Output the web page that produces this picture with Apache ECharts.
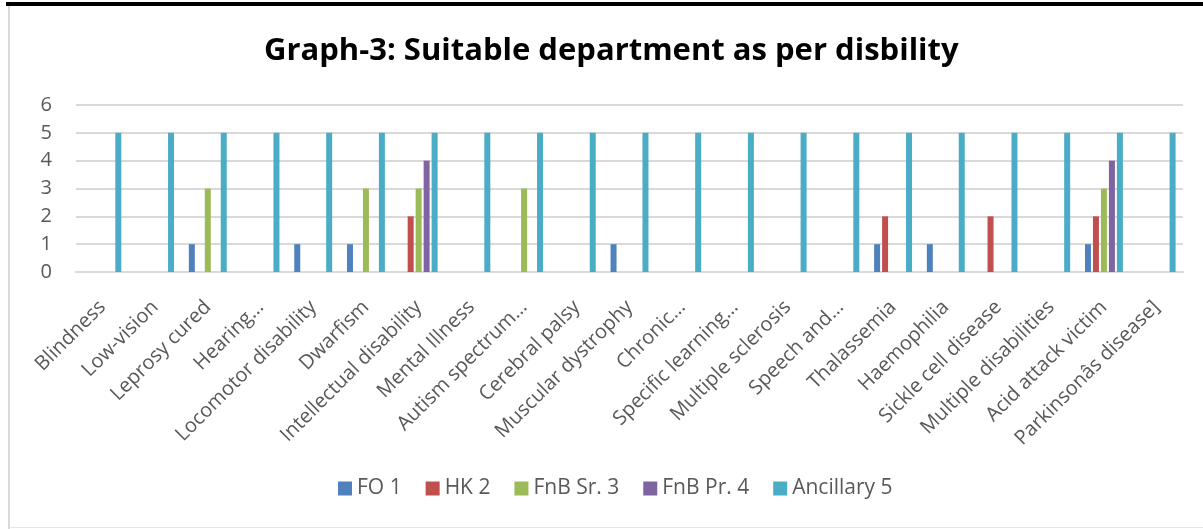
<!DOCTYPE html>
<html>
<head>
<meta charset="utf-8">
<script src="https://cdn.jsdelivr.net/npm/echarts@6/dist/echarts.min.js"></script>
<style>
  html, body { margin: 0; padding: 0; background: #fff; }
  #chart { position: absolute; left: 0; top: 0; width: 1203px; height: 529px; }
  .top-bar { position: absolute; left: 6px; top: 2px; width: 1197px; height: 4px; background: #000; }
  .left-bar { position: absolute; left: 8px; top: 6px; width: 2px; height: 523px; background: #d9d9d9; }
  .bottom-bar { position: absolute; left: 10px; top: 527px; width: 1193px; height: 1px; background: #e6e6e6; }
</style>
</head>
<body>
<div id="chart"></div>
<div class="top-bar"></div>
<div class="left-bar"></div>
<div class="bottom-bar"></div>
<script>
const categories = ['Blindness', 'Low-vision', 'Leprosy cured', 'Hearing…', 'Locomotor disability',
  'Dwarfism', 'Intellectual disability', 'Mental Illness', 'Autism spectrum…', 'Cerebral palsy',
  'Muscular dystrophy', 'Chronic…', 'Specific learning…', 'Multiple sclerosis', 'Speech and…',
  'Thalassemia', 'Haemophilia', 'Sickle cell disease', 'Multiple disabilities', 'Acid attack victim',
  'Parkinsonâs disease]']

const fo1 = [0, 0, 1, 0, 1, 1, 0, 0, 0, 0, 1, 0, 0, 0, 0, 1, 1, 0, 0, 1, 0]
const hk2 = [0, 0, 0, 0, 0, 0, 2, 0, 0, 0, 0, 0, 0, 0, 0, 2, 0, 2, 0, 2, 0]
const fnbSr3 = [0, 0, 3, 0, 0, 3, 3, 0, 3, 0, 0, 0, 0, 0, 0, 0, 0, 0, 0, 3, 0]
const fnbPr4 = [0, 0, 0, 0, 0, 0, 4, 0, 0, 0, 0, 0, 0, 0, 0, 0, 0, 0, 0, 4, 0]
const ancillary5 = [5, 5, 5, 5, 5, 5, 5, 5, 5, 5, 5, 5, 5, 5, 5, 5, 5, 5, 5, 5, 5]

const seriesNames = ['FO 1', 'HK 2', 'FnB Sr. 3', 'FnB Pr. 4', 'Ancillary 5']
const yTicks = [0, 1, 2, 3, 4, 5, 6]

const font = '"Open Sans", "DejaVu Sans", sans-serif'

const makeBar = (name, data) => ({
  name,
  type: 'bar',
  data,
  barWidth: 6,
  barGap: '33%'
})

const chart = echarts.init(document.getElementById('chart'))
const option = {
  animation: false,
  color: ['#4f81bd', '#c0504d', '#9bbb59', '#8064a2', '#4bacc6'],
  title: {
    text: 'Graph-3: Suitable department as per disbility',
    left: 259,
    top: 31,
    textStyle: {
      fontFamily: font,
      fontWeight: 'bold',
      fontSize: 31,
      color: '#000'
    }
  },
  legend: {
    data: seriesNames,
    bottom: 25,
    left: 333,
    itemWidth: 14,
    itemHeight: 14,
    itemGap: 24,
    icon: 'rect',
    textStyle: {
      fontFamily: font,
      fontSize: 21,
      color: '#595959'
    }
  },
  grid: {
    left: 76,
    right: 20,
    top: 105,
    bottom: 257
  },
  xAxis: {
    type: 'category',
    data: categories,
    axisLine: { show: true, lineStyle: { color: '#d9d9d9', width: 2 } },
    axisTick: { show: false },
    axisLabel: {
      interval: 0,
      rotate: 45,
      margin: 32,
      fontFamily: font,
      fontSize: 20,
      color: '#595959'
    }
  },
  yAxis: {
    type: 'value',
    min: yTicks[0],
    max: yTicks[yTicks.length - 1],
    interval: 1,
    axisLine: { show: false },
    axisTick: { show: false },
    splitLine: { lineStyle: { color: '#d9d9d9', width: 2 } },
    axisLabel: {
      margin: 24,
      fontFamily: font,
      fontSize: 20,
      color: '#595959'
    }
  },
  series: [
    makeBar(seriesNames[0], fo1),
    makeBar(seriesNames[1], hk2),
    makeBar(seriesNames[2], fnbSr3),
    makeBar(seriesNames[3], fnbPr4),
    makeBar(seriesNames[4], ancillary5)
  ]
}
chart.setOption(option)
</script>
</body>
</html>
